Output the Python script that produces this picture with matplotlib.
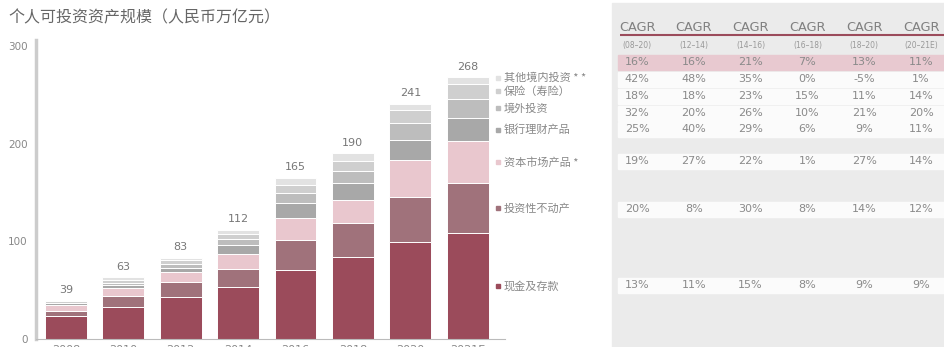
import matplotlib
matplotlib.use("Agg")
import numpy as np
import matplotlib.pyplot as plt
from matplotlib.patches import Rectangle

plt.rcParams["font.family"] = ["DejaVu Sans", "Noto Sans CJK SC"]

W, H = 944, 347

years = ["2008", "2010", "2012", "2014", "2016", "2018", "2020", "2021E"]

# stacked from the bottom up
categories = ["现金及存款", "投资性不动产", "资本市场产品 *", "银行理财产品",
              "境外投资", "保险（寿险）", "其他境内投资 * *"]
cash = [23.5, 32.5, 43.3, 53.7, 70.7, 83.6, 99.0, 108.0]
property_inv = [5.5, 11.0, 15.4, 18.0, 30.4, 35.4, 46.5, 51.7]
capital_mkt = [6.0, 8.5, 9.5, 15.3, 22.8, 23.3, 37.5, 42.7]
bank_wmp = [1.5, 3.0, 4.8, 9.4, 15.7, 17.7, 21.0, 23.3]
overseas = [0.6, 2.5, 4.2, 6.0, 9.6, 11.6, 17.0, 20.4]
insurance = [1.8, 3.0, 3.8, 5.3, 8.0, 10.6, 13.0, 14.8]
other_dom = [0.1, 2.5, 2.0, 4.3, 7.8, 7.8, 7.0, 7.1]
series = [cash, property_inv, capital_mkt, bank_wmp, overseas, insurance, other_dom]
colors = ["#9b4b5b", "#a0727b", "#e9c7ce", "#a8a8a8", "#bdbdbd", "#cfcfcf", "#e2e2e2"]

# CAGR table
periods = ["(08–20)", "(12–14)", "(14–16)", "(16–18)", "(18–20)", "(20–21E)"]
cagr_total = ["16%", "16%", "21%", "7%", "13%", "11%"]
cagr_rows = [
    ["42%", "48%", "35%", "0%", "-5%", "1%"],      # 其他境内投资
    ["18%", "18%", "23%", "15%", "11%", "14%"],    # 保险
    ["32%", "20%", "26%", "10%", "21%", "20%"],    # 境外投资
    ["25%", "40%", "29%", "6%", "9%", "11%"],      # 银行理财产品
    ["19%", "27%", "22%", "1%", "27%", "14%"],     # 资本市场产品
    ["20%", "8%", "30%", "8%", "14%", "12%"],      # 投资性不动产
    ["13%", "11%", "15%", "8%", "9%", "9%"],       # 现金及存款
]

fig = plt.figure(figsize=(W / 100, H / 100), dpi=100)


def px_axes(x0, y0, x1, y1):
    return fig.add_axes([x0 / W, 1 - y1 / H, (x1 - x0) / W, (y1 - y0) / H])


# ---- bar chart ----
ax = px_axes(36, 40, 505, 339)
x = np.arange(len(years))
bottom = np.zeros(len(years))
for vals, col in zip(series, colors):
    ax.bar(x, vals, width=0.73, bottom=bottom, color=col,
           edgecolor="white", linewidth=0.7, zorder=2)
    bottom += np.array(vals)

for xi, tot in zip(x, bottom):
    ax.annotate(f"{tot:.0f}", (xi, tot), xytext=(0, 4), textcoords="offset points",
                ha="center", va="bottom", fontsize=8, color="#777777")

# legend labels next to the middle of each segment of the last bar,
# pushed apart upward where the segments are too thin
last_vals = np.array([s[-1] for s in series])
label_y = list(np.cumsum(last_vals) - last_vals / 2)
for i in range(1, len(label_y)):
    label_y[i] = max(label_y[i], label_y[i - 1] + 13.5)
for name, col, ymid in zip(categories, colors, label_y):
    ax.plot([len(years) - 1 + 0.53], [ymid], marker="s", ms=3.2, color=col,
            clip_on=False, zorder=3)
    ax.text(len(years) - 1 + 0.63, ymid, name, fontsize=8, color="#888888",
            va="center", ha="left", clip_on=False,
            family=["Noto Sans CJK SC", "DejaVu Sans"])

ax.set_xlim(-0.52, 7.65)
ax.set_ylim(0, 306)
ax.set_xticks(x, years)
ax.set_yticks([0, 100, 200, 300])
ax.tick_params(axis="both", length=0, labelsize=7.5, colors="#888888")
ax.tick_params(axis="x", pad=4.5, labelsize=8)
ax.tick_params(axis="y", pad=6)
for side in ["top", "right"]:
    ax.spines[side].set_visible(False)
ax.spines["left"].set_color("#cccccc")
ax.spines["left"].set_linewidth(2.5)
ax.spines["bottom"].set_color("#bbbbbb")
ax.spines["bottom"].set_linewidth(0.8)

fig.text(8 / W, 1 - 18 / H, "个人可投资资产规模（人民币万亿元）", fontsize=11.5,
         color="#666666", va="center", ha="left",
         family=["Noto Sans CJK SC", "DejaVu Sans"])

# ---- CAGR table ----
tab = px_axes(0, 0, W, H)
tab.set_xlim(0, W)
tab.set_ylim(H, 0)
tab.axis("off")
tab.add_patch(Rectangle((612, 3), W - 612, H - 3, color="#ebebeb", zorder=0))

col_x = 637 + 56.8 * np.arange(len(periods))
row_y = [79, 96, 113, 129, 161, 209, 285]
band_h = 15

for cx, per in zip(col_x, periods):
    tab.text(cx, 27, "CAGR", fontsize=9.3, color="#808080", ha="center", va="center")
    tab.text(cx, 45, per, fontsize=5.5, color="#999999", ha="center", va="center")
tab.plot([620, W], [35, 35], color="#9b4b5b", lw=1.5, solid_capstyle="butt")

tab.add_patch(Rectangle((618, 62 - band_h / 2), W - 618, band_h, color="#e8c9d0", zorder=1))
for cx, val in zip(col_x, cagr_total):
    tab.text(cx, 62, val, fontsize=8, color="#8a8a8a", ha="center", va="center", zorder=2)

for ry, row in zip(row_y, cagr_rows):
    tab.add_patch(Rectangle((618, ry - band_h / 2), W - 618, band_h, color="#fbfbfb", zorder=1))
    for cx, val in zip(col_x, row):
        tab.text(cx, ry, val, fontsize=8, color="#8a8a8a", ha="center", va="center", zorder=2)

fig.savefig("out.png", dpi=100)
